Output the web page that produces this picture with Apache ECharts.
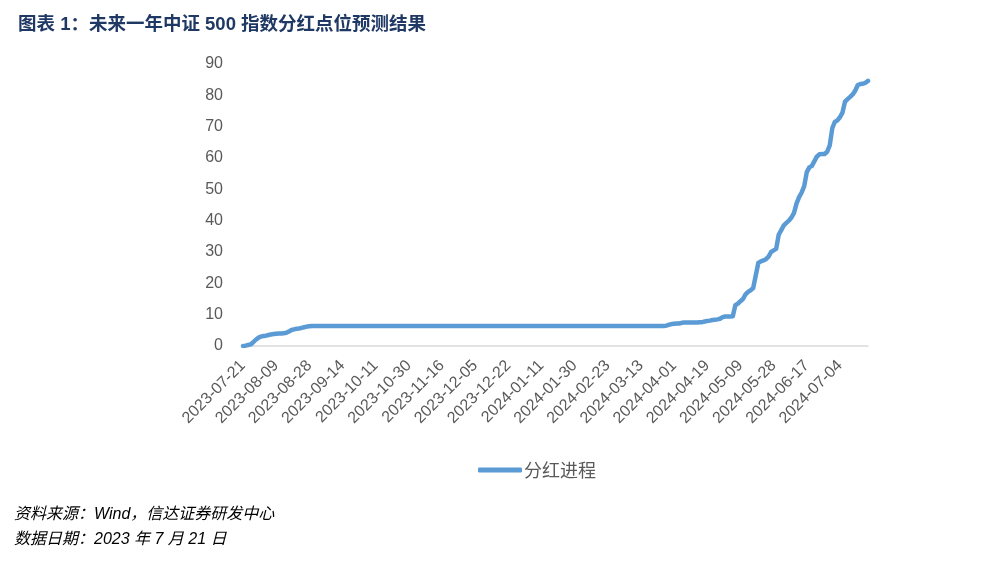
<!DOCTYPE html>
<html><head><meta charset="utf-8">
<script src="https://cdn.jsdelivr.net/npm/echarts@6/dist/echarts.min.js"></script>
<style>html,body{margin:0;padding:0;background:#fff}#c{width:1001px;height:562px}</style>
</head><body><div id="c"></div>
<script>
// Trading days per month (days of month)
const tradingDays = [
  ["2023-07", [21,24,25,26,27,28,31]],
  ["2023-08", [1,2,3,4,7,8,9,10,11,14,15,16,17,18,21,22,23,24,25,28,29,30,31]],
  ["2023-09", [1,4,5,6,7,8,11,12,13,14,15,18,19,20,21,22,25,26,27,28]],
  ["2023-10", [9,10,11,12,13,16,17,18,19,20,23,24,25,26,27,30,31]],
  ["2023-11", [1,2,3,6,7,8,9,10,13,14,15,16,17,20,21,22,23,24,27,28,29,30]],
  ["2023-12", [1,4,5,6,7,8,11,12,13,14,15,18,19,20,21,22,25,26,27,28,29]],
  ["2024-01", [2,3,4,5,8,9,10,11,12,15,16,17,18,19,22,23,24,25,26,29,30,31]],
  ["2024-02", [1,2,5,6,7,8,9,19,20,21,22,23,26,27,28,29]],
  ["2024-03", [1,4,5,6,7,8,11,12,13,14,15,18,19,20,21,22,25,26,27,28,29]],
  ["2024-04", [1,2,3,5,8,9,10,11,12,15,16,17,18,19,22,23,24,25,26,29,30]],
  ["2024-05", [2,3,6,7,8,9,10,13,14,15,16,17,20,21,22,23,24,27,28,29,30,31]],
  ["2024-06", [3,4,5,6,7,11,12,13,14,17,18,19,20,21,24,25,26,27,28]],
  ["2024-07", [1,2,3,4,5,8,9,10,11,12,15,16,17,18,19]]
];
const categories = [];
tradingDays.forEach(([ym, days]) => days.forEach(d => categories.push(ym + "-" + String(d).padStart(2, "0"))));

// 分红进程 values (index points)
const startPhase = [0,0.1,0.3,0.5,1.2,2.0,2.6,3.0,3.2,3.3,3.5,3.7,3.8,3.9,4.0,4.0,4.1,4.2,4.6,5.1,5.3,5.5,5.6,5.8,6.0,6.2,6.3,6.4];
const flatPhase = new Array(138).fill(6.4);
const risePhase = [6.5,6.8,7.0,7.1,7.2,7.2,7.4,7.5,7.5,7.5,7.5,7.5,7.5,7.6,7.6,
  7.8,8.0,8.1,8.3,8.4,8.5,8.7,9.2,9.4,9.4,9.4,9.5,13.0,13.5,14.3,15.0,16.5,17.3,17.8,18.5,
  22.5,26.5,27.0,27.3,27.7,28.5,30.0,30.5,31.0,35.5,37.0,38.5,39.3,40.0,41.0,42.5,45.5,47.5,49.0,51.0,
  55.5,57.0,57.5,59.0,60.5,61.2,61.3,61.3,62.0,64.0,69.5,71.5,72.0,73.0,74.5,78.0,78.8,79.5,80.3,81.5,
  83.3,83.6,83.7,84.0,84.6];
const values = startPhase.concat(flatPhase, risePhase);

const yTicks = { min: 0, max: 90, interval: 10 };
const seriesName = "分红进程";
const titleText = "图表 1：未来一年中证 500 指数分红点位预测结果";
const sourceText = "资料来源：Wind，信达证券研发中心";
const dateText = "数据日期：2023 年 7 月 21 日";

const noteStyle = { fontSize: 16, fontStyle: 'italic', fontFamily: '"Liberation Sans","Noto Sans CJK SC",sans-serif', fill: '#000' };

const chart = echarts.init(document.getElementById('c'), null, { renderer: 'canvas' });
chart.setOption({
  backgroundColor: '#fff',
  animation: false,
  title: {
    text: titleText, left: 13, top: 11,
    textStyle: { fontFamily: '"Liberation Sans","Noto Sans CJK SC",sans-serif', fontSize: 18.5, fontWeight: 'bold', color: '#1F3864' }
  },
  grid: { left: 243, right: 133, top: 64, bottom: 216, containLabel: false },
  legend: {
    data: [seriesName], left: 473, top: 456, itemWidth: 44, itemHeight: 5, itemGap: 6,
    icon: 'roundRect',
    textStyle: { fontFamily: '"Noto Sans CJK SC",sans-serif', fontSize: 18, color: '#595959', padding: [0,0,0,-3] }
  },
  xAxis: {
    type: 'category', data: categories, boundaryGap: false,
    axisLine: { lineStyle: { color: '#D9D9D9', width: 1.5 } },
    axisTick: { show: false },
    axisLabel: { interval: 12, rotate: 45, margin: 17, color: '#595959', fontSize: 16, fontFamily: '"Liberation Sans",sans-serif' },
    splitLine: { show: false }
  },
  yAxis: {
    type: 'value', min: yTicks.min, max: yTicks.max, interval: yTicks.interval,
    axisLine: { show: false }, axisTick: { show: false }, splitLine: { show: false },
    axisLabel: { margin: 20, color: '#595959', fontSize: 16, fontFamily: '"Liberation Sans",sans-serif' }
  },
  series: [{
    name: seriesName, type: 'line', data: values, showSymbol: false, symbol: 'none',
    lineStyle: { color: '#5B9BD5', width: 4.5, cap: 'round', join: 'round' },
    itemStyle: { color: '#5B9BD5' }
  }],
  graphic: [
    { type: 'text', left: 14, top: 507, style: Object.assign({ text: sourceText }, noteStyle) },
    { type: 'text', left: 14, top: 532, style: Object.assign({ text: dateText }, noteStyle) }
  ]
});
</script></body></html>
